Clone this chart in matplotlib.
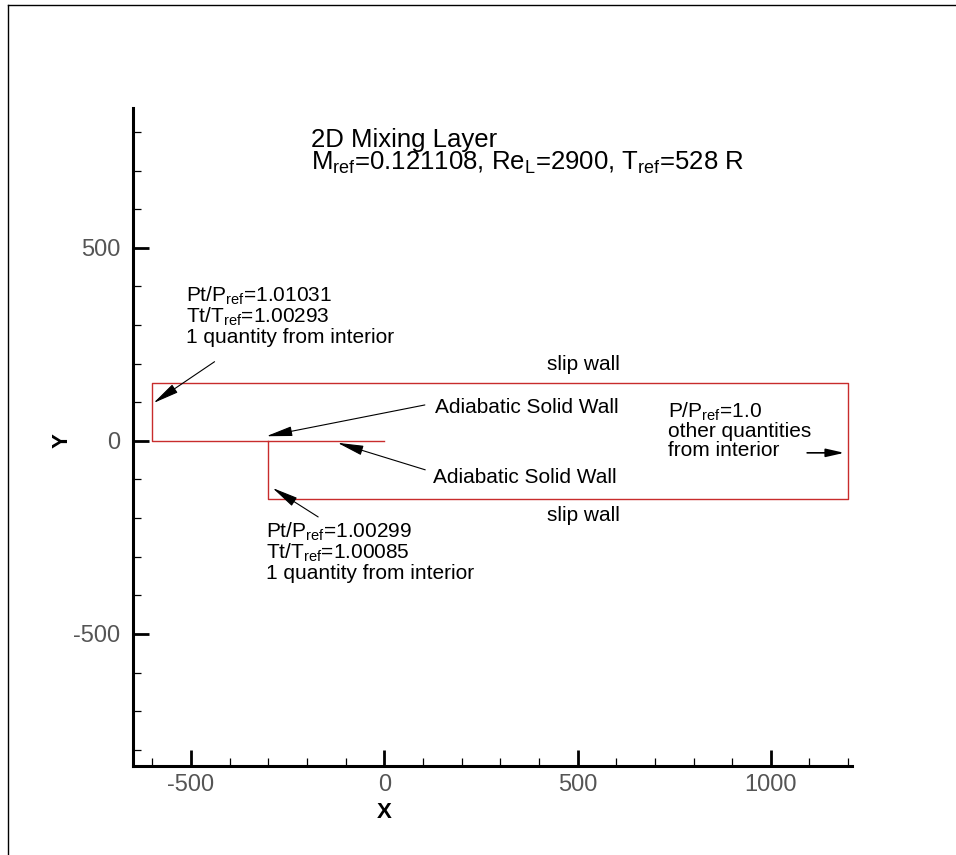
import matplotlib
matplotlib.use('Agg')
import matplotlib.pyplot as plt
from matplotlib.ticker import MultipleLocator
from matplotlib.lines import Line2D

plt.rcParams['font.family'] = ['Liberation Sans', 'DejaVu Sans']
plt.rcParams['mathtext.fontset'] = 'custom'
plt.rcParams['mathtext.rm'] = 'Liberation Sans'
plt.rcParams['mathtext.it'] = 'Liberation Sans'
plt.rcParams['axes.unicode_minus'] = False

# domain boundary: splitter plate end -> upper inlet -> outlet -> lower inlet
wall_x = [0, -600, -600, 1200, 1200, -300, -300]
wall_y = [0, 0, 150, 150, -150, -150, 0]

xlim = (-650, 1210)
ylim = (-842, 862)

# arrows (tail, tip) in data units
arrows = [
    ((-439, 205), (-597, 98)),
    ((105, 93), (-305, 12)),
    ((106, -75), (-121, -5)),
    ((-171, -197), (-289, -122)),
]
outlet_arrow = ((1094, -31), (1190, -31))

title_lines = ['2D Mixing Layer',
               r'M$_{\rm ref}$=0.121108, Re$_{\rm L}$=2900, T$_{\rm ref}$=528 R']
upper_inlet = [r'Pt/P$_{\rm ref}$=1.01031', r'Tt/T$_{\rm ref}$=1.00293',
               '1 quantity from interior']
lower_inlet = [r'Pt/P$_{\rm ref}$=1.00299', r'Tt/T$_{\rm ref}$=1.00085',
               '1 quantity from interior']
outlet = [r'P/P$_{\rm ref}$=1.0', 'other quantities', 'from interior']

fig = plt.figure(figsize=(9.56, 8.55), dpi=100)
ax = fig.add_axes([133 / 956, 89 / 855, 719 / 956, 658 / 855])

ax.plot(wall_x, wall_y, color='#c82c2c', lw=1.0)

for tail, tip in arrows:
    ax.annotate('', xy=tip, xytext=tail,
                arrowprops=dict(arrowstyle='-|>,head_length=1.6,head_width=0.3',
                                mutation_scale=10, lw=0.8, color='black',
                                shrinkA=0, shrinkB=0))
ax.annotate('', xy=outlet_arrow[1], xytext=outlet_arrow[0],
            arrowprops=dict(arrowstyle='-|>,head_length=1.1,head_width=0.25',
                            mutation_scale=10, lw=1.2, color='black',
                            shrinkA=0, shrinkB=0))

# text blocks
for txt, yb in zip(title_lines, [762, 703]):
    ax.text(-190, yb, txt, fontsize=18.5, va='baseline', ha='left')
for txt, yb in zip(upper_inlet, [360, 306, 253]):
    ax.text(-514, yb, txt, fontsize=15, va='baseline', ha='left')
for txt, yb in zip(lower_inlet, [-252, -306, -359]):
    ax.text(-307, yb, txt, fontsize=15, va='baseline', ha='left')
for txt, yb in zip(outlet, [60, 10, -39]):
    ax.text(734, yb, txt, fontsize=15, va='baseline', ha='left')
ax.text(132, 73, 'Adiabatic Solid Wall', fontsize=15, va='baseline')
ax.text(127, -109, 'Adiabatic Solid Wall', fontsize=15, va='baseline')
ax.text(514, 197, 'slip wall', fontsize=15, ha='center', va='center')
ax.text(514, -192, 'slip wall', fontsize=15, ha='center', va='center')

ax.set_xlim(*xlim)
ax.set_ylim(*ylim)
ax.xaxis.set_major_locator(MultipleLocator(500))
ax.xaxis.set_minor_locator(MultipleLocator(100))
ax.yaxis.set_major_locator(MultipleLocator(500))
ax.yaxis.set_minor_locator(MultipleLocator(100))

for s in ['top', 'right']:
    ax.spines[s].set_visible(False)
for s in ['left', 'bottom']:
    ax.spines[s].set_linewidth(2.2)

ax.tick_params(which='major', direction='in', length=11.5, width=2,
               labelsize=17, labelcolor='#555555')
ax.tick_params(axis='x', which='major', pad=6)
ax.tick_params(axis='y', which='major', pad=9)
ax.tick_params(which='minor', direction='in', length=6, width=0.9)

ax.text(0, -0.07, 'X', transform=ax.get_xaxis_transform(), fontsize=16,
        fontweight='bold', ha='center', va='center')
ax.text(-0.0988, 0, 'Y', transform=ax.get_yaxis_transform(), fontsize=16,
        fontweight='bold', ha='center', va='center', rotation=90)

# outer frame of the page (left and top edges)
fig.add_artist(Line2D([8 / 956, 8 / 956], [0, 1 - 5 / 855], color='black', lw=1))
fig.add_artist(Line2D([8 / 956, 1], [1 - 5 / 855, 1 - 5 / 855], color='black', lw=1))

fig.savefig('out.png', dpi=100)
